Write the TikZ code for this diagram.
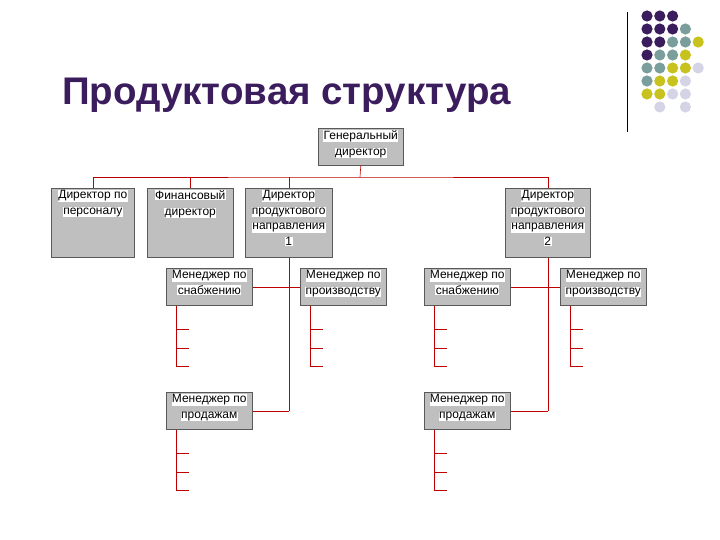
\documentclass[tikz,border=0pt]{standalone}
\usepackage{fontspec}
\setmainfont{Liberation Sans}
\usetikzlibrary{calc}
\begin{document}
\begin{tikzpicture}[x=1pt,y=-1pt,
  box/.style={draw=gray!70!black,fill=gray!50,line width=0.6pt,anchor=north west,inner sep=0pt},
  lbl/.style={anchor=north,align=center,inner sep=2pt,font=\fontsize{12}{15.5}\selectfont},
  ln/.style={draw=red!75!black,line width=0.6pt}]
\definecolor{dpur}{HTML}{3B1D5E}
\definecolor{dteal}{HTML}{7A9E9C}
\definecolor{dyel}{HTML}{C8C21E}
\definecolor{dlav}{HTML}{D4D4E6}
\newcommand{\hw}[1]{{\setlength{\fboxsep}{0.4pt}\colorbox{white}{#1}}}
\useasboundingbox (0,0) rectangle (720,540);
\node[anchor=base west,font=\bfseries\fontsize{38.5}{44}\selectfont,text=dpur,inner sep=0pt] (title) at (62,105) {Продуктовая структура};
\draw[line width=0.8pt] (627,12) -- (627,132);
\foreach \c/\r/\col in {0/0/dpur,1/0/dpur,2/0/dpur,
 0/1/dpur,1/1/dpur,2/1/dpur,3/1/dteal,
 0/2/dpur,1/2/dpur,2/2/dteal,3/2/dteal,4/2/dyel,
 0/3/dpur,1/3/dteal,2/3/dteal,3/3/dyel,
 0/4/dteal,1/4/dteal,2/4/dyel,3/4/dyel,4/4/dlav,
 0/5/dteal,1/5/dyel,2/5/dyel,3/5/dlav,
 0/6/dyel,1/6/dyel,2/6/dlav,3/6/dlav,
 1/7/dlav,3/7/dlav}
 \fill[\col] ({647+12.8*\c},{16+13*\r}) circle (5.6);
% boxes
\node[box,minimum width=85,minimum height=37] (g) at (318,128) {};
\node[lbl] at (g.north) {\hw{Генеральный}\\\hw{директор}};
\foreach \n/\x/\w in {b1/51/83,b2/147/86,b3/245/87,b4/505/85}
 \node[box,minimum width=\w,minimum height=69] (\n) at (\x,188) {};
\node[lbl] at (b1.north) {\hw{Директор по}\\\hw{персоналу}};
\node[lbl] at (b2.north) {\hw{Финансовый}\\\hw{директор}};
\node[lbl] at (b3.north) {\hw{Директор}\\\hw{продуктового}\\\hw{направления}\\\hw{1}};
\node[lbl] at (b4.north) {\hw{Директор}\\\hw{продуктового}\\\hw{направления}\\\hw{2}};
\foreach \n/\x/\y in {m1/166/268,m2/300/268,m3/424/268,m4/560/268,m5/166/392,m6/424/392}
 \node[box,minimum width=86,minimum height=37] (\n) at (\x,\y) {};
\node[lbl] at (m1.north) {\hw{Менеджер по}\\\hw{снабжению}};
\node[lbl] at (m2.north) {\hw{Менеджер по}\\\hw{производству}};
\node[lbl] at (m3.north) {\hw{Менеджер по}\\\hw{снабжению}};
\node[lbl] at (m4.north) {\hw{Менеджер по}\\\hw{производству}};
\node[lbl] at (m5.north) {\hw{Менеджер по}\\\hw{продажам}};
\node[lbl] at (m6.north) {\hw{Менеджер по}\\\hw{продажам}};
% connectors
\coordinate (h) at (360,177);
\draw[ln] (g.south) -- (h);
\draw[ln] (b1.north) |- (h) -| (b4.north);
\draw[ln] (b2.north) -- (b2.north |- h);
\draw[ln] (b3.north) -- (b3.north |- h);
\foreach \d/\a/\b in {b3/m1/m2,b4/m3/m4}{
  \draw[ln] (\d.south) -- (\d.south |- m5.east);
  \draw[ln] (\a.east) -- (\b.west);
}
\draw[ln] (m5.east) -- (b3.south |- m5.east);
\draw[ln] (m6.east) -- (b4.south |- m6.east);
\foreach \m in {m1,m2,m3,m4,m5,m6}{
  \coordinate (t\m) at ($(\m.south west)+(10,0)$);
  \draw[ln] (t\m) -- ++(0,61);
  \foreach \k in {24,43,61} \draw[ln] ($(t\m)+(0,\k)$) -- ++(13,0);
}
\end{tikzpicture}
\end{document}
